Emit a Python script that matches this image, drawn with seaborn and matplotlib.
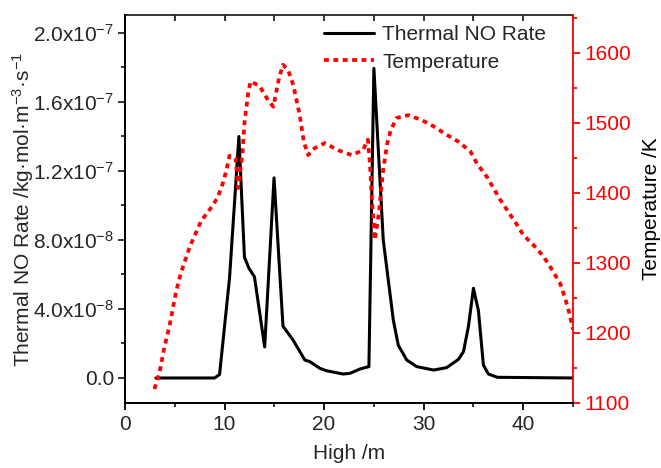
import numpy as np
import pandas as pd
import matplotlib
matplotlib.use("Agg")
import matplotlib.pyplot as plt
import seaborn as sns
from matplotlib.ticker import MultipleLocator, FixedLocator, FixedFormatter
from matplotlib.lines import Line2D

# ---- data ----
no_x = [3.1, 9.0, 9.5, 10.5, 11.44, 12.0, 12.45, 13.0, 14.03, 14.97, 15.87, 16.88, 18.06, 18.56,
        19.57, 20.24, 21.9, 22.6, 23.6, 24.5, 25.0, 25.94, 26.95, 27.45, 28.3, 29.3, 31.0, 32.3,
        33.5, 34.0, 34.5, 35.0, 35.5, 36.0, 36.5, 37.4, 45.0]
no_rate = [0, 0, 0.02e-7, 0.58e-7, 1.40e-7, 0.70e-7, 0.636e-7, 0.587e-7, 0.18e-7, 1.16e-7,
           0.30e-7, 0.22e-7, 0.104e-7, 0.095e-7, 0.056e-7, 0.042e-7, 0.023e-7, 0.027e-7,
           0.052e-7, 0.066e-7, 1.795e-7, 0.80e-7, 0.336e-7, 0.19e-7, 0.104e-7, 0.066e-7,
           0.046e-7, 0.06e-7, 0.108e-7, 0.153e-7, 0.30e-7, 0.52e-7, 0.39e-7, 0.075e-7,
           0.023e-7, 0.004e-7, 0.0]

t_x = [2.95, 3.45, 3.96, 4.46, 5.1, 5.6, 6.5, 7.65, 8.5, 9.3, 9.83, 10.2, 10.5, 11.1, 11.37,
       11.8, 12.0, 12.35, 12.6, 13.5, 14.3, 14.9, 15.47, 15.87, 16.4, 16.9, 17.55, 17.96, 18.4,
       19.06, 20.07, 21.4, 22.76, 23.9, 24.4, 24.6, 24.8, 25.1, 25.5, 25.95, 26.35, 26.7, 27.3,
       28.46, 29.8, 31.0, 32.3, 33.5, 34.7, 35.35, 36.35, 37.7, 38.5, 39.4, 40.0, 41.0, 42.05,
       42.9, 43.7, 44.2, 44.6, 45.0]
temperature = [1120, 1142, 1180, 1209, 1257, 1285, 1323, 1360, 1376, 1393, 1414, 1433, 1453,
               1450, 1407, 1457, 1500, 1540, 1559, 1553, 1534, 1523, 1564, 1583, 1575, 1554,
               1511, 1473, 1454, 1464, 1471, 1461, 1454, 1461, 1476, 1442, 1390, 1333, 1371,
               1435, 1471, 1490, 1507, 1511, 1504, 1495, 1483, 1473, 1459, 1442, 1423, 1390,
               1373, 1354, 1340, 1326, 1309, 1290, 1271, 1250, 1230, 1205]

left_ticks = [0, 4e-8, 8e-8, 1.2e-7, 1.6e-7, 2.0e-7]
left_labels = ["0.0", "4.0x10$^{-8}$", "8.0x10$^{-8}$", "1.2x10$^{-7}$", "1.6x10$^{-7}$", "2.0x10$^{-7}$"]
series_names = ["Thermal NO Rate", "Temperature"]

# ---- style ----
sns.set_theme(style="ticks")
plt.rcParams["font.family"] = ["Liberation Sans", "DejaVu Sans"]
plt.rcParams["mathtext.default"] = "regular"
plt.rcParams["axes.unicode_minus"] = False
FS = 15

fig = plt.figure(figsize=(6.61, 4.68), dpi=100)
ax = fig.add_axes([125 / 661, 1 - 403 / 468, (573 - 125) / 661, (403 - 15) / 468])
ax2 = ax.twinx()

df_no = pd.DataFrame({"x": no_x, "y": no_rate})
df_t = pd.DataFrame({"x": t_x, "y": temperature})

sns.lineplot(data=df_no, x="x", y="y", ax=ax, color="black", lw=2.2, sort=False, legend=False)
sns.lineplot(data=df_t, x="x", y="y", ax=ax2, color="#ff0000", lw=2.7, sort=False, legend=False,
             linestyle=(0, (1.3, 1.2)))

ax.set_xlim(0, 45)
ax.set_ylim(-1.45e-8, 2.104e-7)
ax2.set_ylim(1100, 1654)

# x axis
ax.xaxis.set_major_locator(MultipleLocator(10))
ax.xaxis.set_minor_locator(MultipleLocator(5))
ax.tick_params(axis="x", which="major", direction="out", length=5, width=1.3, labelsize=FS,
               color="black", pad=4)
ax.tick_params(axis="x", which="minor", direction="out", length=3, width=1.3)
top = ax.secondary_xaxis("top")
top.set_xticks(np.arange(0, 46, 5))
top.tick_params(direction="in", length=4, width=1.3, labeltop=False)
top.spines["top"].set_linewidth(1.3)

# left y axis
ax.yaxis.set_major_locator(FixedLocator(left_ticks))
ax.yaxis.set_major_formatter(FixedFormatter(left_labels))
ax.yaxis.set_minor_locator(MultipleLocator(2e-8))
ax.tick_params(axis="y", which="major", direction="out", length=5, width=1.3, labelsize=FS, pad=3)
ax.tick_params(axis="y", which="minor", direction="out", length=3, width=1.3)

# right y axis
ax2.yaxis.set_major_locator(MultipleLocator(100))
ax2.yaxis.set_minor_locator(MultipleLocator(50))
ax2.tick_params(axis="y", which="major", direction="out", length=5, width=1.3, labelsize=FS,
                colors="#ff0000", pad=3)
ax2.tick_params(axis="y", which="minor", direction="out", length=3, width=1.3, colors="#ff0000")

for a in (ax, ax2):
    for s in a.spines.values():
        s.set_linewidth(1.3)
        s.set_color("black")
ax2.spines["right"].set_color("#ff0000")
ax.spines["right"].set_visible(False)
ax.spines["top"].set_visible(False)
ax2.spines["top"].set_visible(False)

ax.set_xlabel("High /m", fontsize=FS, labelpad=7)
ax.set_ylabel("Thermal NO Rate /kg\u00b7mol\u00b7m$^{-3}$\u00b7s$^{-1}$", fontsize=FS, labelpad=-2)
ax2.set_ylabel("Temperature /K", fontsize=FS, color="black", labelpad=8)

handles = [Line2D([], [], color="black", lw=2.2),
           Line2D([], [], color="#ff0000", lw=2.7, linestyle=(0, (1.3, 1.2)))]
ax2.legend(handles, series_names, loc="upper left", bbox_to_anchor=(0.425, 0.995), frameon=False,
           fontsize=FS, handlelength=2.4, handletextpad=0.4, labelspacing=0.4, borderaxespad=0)

fig.savefig("out.png", dpi=100)
